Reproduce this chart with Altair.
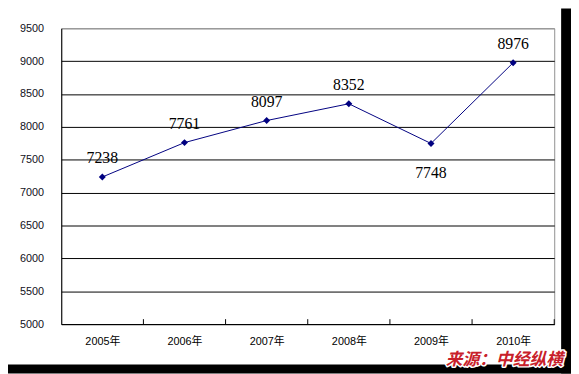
import json
import altair as alt
import pandas as pd

# ---- data ----
years = ["2005年", "2006年", "2007年", "2008年", "2009年", "2010年"]
values = [7238, 7761, 8097, 8352, 7748, 8976]
label_pos = ["above", "above", "above", "above", "below", "above"]
y_ticks = [5000, 5500, 6000, 6500, 7000, 7500, 8000, 8500, 9000, 9500]
source_text = "来源：中经纵横"

df = pd.DataFrame({
    "idx": [i + 0.5 for i in range(len(years))],
    "year": years,
    "value": values,
    "pos": label_pos,
})
bounds = pd.DataFrame({"idx": list(range(1, len(years) + 1))})
frame_df = pd.DataFrame({"k": [0]})

label_expr = json.dumps(years, ensure_ascii=False) + "[floor(datum.value)]"

x_axis = alt.Axis(
    values=list(df["idx"]), labelExpr=label_expr, title=None,
    grid=False, ticks=False, tickSize=0, domain=True, domainColor="black",
    labelFont="Liberation Sans, Noto Sans CJK SC", labelFontSize=11,
    labelColor="black", labelPadding=12, labelAngle=0, labelOverlap=False,
)
y_axis = alt.Axis(
    values=y_ticks, format="d", title=None, grid=True,
    gridColor={"condition": {"test": "datum.value >= 9500", "value": "#909090"}, "value": "black"},
    gridWidth=1, ticks=False, tickSize=0, domain=True, domainColor="black",
    labelFont="Liberation Sans", labelFontSize=11, labelColor="#101020",
    labelPadding=18, labelOverlap=False,
)
x_scale = alt.Scale(domain=[0, len(years)], nice=False, zero=False)
y_scale = alt.Scale(domain=[5000, 9500], nice=False, zero=False)

x_enc = alt.X("idx:Q", scale=x_scale, axis=x_axis)
y_enc = alt.Y("value:Q", scale=y_scale, axis=y_axis)

base = alt.Chart(df).encode(x=x_enc, y=y_enc)

line = base.mark_line(color="#000080", strokeWidth=1)
pts = base.mark_point(shape="diamond", filled=True, color="#000080", size=50, opacity=1)

lbl_above = base.transform_filter(alt.datum.pos == "above").mark_text(
    font="Liberation Serif", fontSize=16, color="#000000", dy=-19, baseline="middle"
).encode(text="value:Q")
lbl_below = base.transform_filter(alt.datum.pos == "below").mark_text(
    font="Liberation Serif", fontSize=16, color="#000000", dy=30, baseline="middle"
).encode(text="value:Q")

ticks = alt.Chart(bounds).mark_rule(color="black", strokeWidth=1).encode(
    x=x_enc, y=alt.value(300), y2=alt.value(295))

frame_right = alt.Chart(frame_df).mark_rect(color="black").encode(
    x=alt.value(507), x2=alt.value(520), y=alt.value(-20), y2=alt.value(350))
frame_bottom = alt.Chart(frame_df).mark_rect(color="black").encode(
    x=alt.value(-60), x2=alt.value(520), y=alt.value(341), y2=alt.value(350))

src_outline = alt.Chart(frame_df).mark_text(
    text=source_text, font="Noto Sans CJK SC", fontSize=17, fontWeight="bold",
    fontStyle="italic", align="right", baseline="middle",
    fill="#c8202a", stroke="white", strokeWidth=3, strokeJoin="round",
).encode(x=alt.value(509), y=alt.value(336))
src = alt.Chart(frame_df).mark_text(
    text=source_text, font="Noto Sans CJK SC", fontSize=17, fontWeight="bold",
    fontStyle="italic", align="right", baseline="middle", fill="#c8202a",
).encode(x=alt.value(509), y=alt.value(336))

chart = alt.layer(
    line, pts, lbl_above, lbl_below, ticks, frame_right, frame_bottom, src_outline, src
).properties(
    width=500, height=300,
    autosize=alt.AutoSizeParams(type="none"),
    padding={"left": 54, "top": 18, "right": 17, "bottom": 48},
    background="white",
).configure_view(stroke="#909090", strokeWidth=1)

chart.save("out.html", embed_options={"renderer": "svg", "actions": False})
